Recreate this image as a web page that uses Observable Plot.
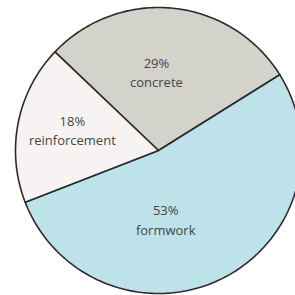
<!DOCTYPE html>
<html>
<head>
<meta charset="utf-8">
<script src="https://cdn.jsdelivr.net/npm/d3@7"></script>
<script src="https://cdn.jsdelivr.net/npm/@observablehq/plot@0.6"></script>
<style>
  html, body { margin: 0; padding: 0; background: #fff; }
  #chart svg { display: block; }
</style>
</head>
<body>
<div id="chart"></div>
<script>
// Data
const categories = ["concrete", "formwork", "reinforcement"];
const values = [29, 53, 18];
const labels = ["29%\nconcrete", "53%\nformwork", "18%\nreinforcement"];
const colors = ["#d3d2cb", "#bde2e9", "#f8f3f3"];

// Layout (pixels)
const W = 295, H = 295;
const cx = 158, cy = 150, R = 143;
const startDeg = -46.4;

// Pie angles
const pie = d3.pie().sort(null).startAngle(startDeg * Math.PI / 180)
  .endAngle(startDeg * Math.PI / 180 + 2 * Math.PI);
const arcs = pie(values);

// Build polygon outline points in unit data coords (x right, y up)
const pts = [];
arcs.forEach((a, i) => {
  const cat = categories[i];
  pts.push({cat, x: 0, y: 0});
  const n = 120;
  for (let k = 0; k <= n; k++) {
    const t = a.startAngle + (a.endAngle - a.startAngle) * k / n;
    pts.push({cat, x: Math.sin(t), y: Math.cos(t)});
  }
  pts.push({cat, x: 0, y: 0});
});

// Label anchors: centroid direction, with small pixel tweaks
const labelTweak = {
  concrete: [-10, -1],
  formwork: [-28, -2],
  reinforcement: [-9, -6]
};
const labelRows = arcs.map((a, i) => {
  const m = (a.startAngle + a.endAngle) / 2;
  return {cat: categories[i], text: labels[i], x: 0.55 * Math.sin(m), y: 0.55 * Math.cos(m)};
});

const chart = Plot.plot({
  width: W,
  height: H,
  margin: 0,
  x: {domain: [(0 - cx) / R, (W - cx) / R], axis: null},
  y: {domain: [(cy - H) / R, cy / R], axis: null},
  color: {domain: categories, range: colors},
  style: {background: "#fff"},
  marks: [
    Plot.line(pts, {x: "x", y: "y", z: "cat", fill: "cat", stroke: "#2b2b2b", strokeWidth: 1.6, strokeLinejoin: "round"}),
    ...labelRows.map(d => Plot.text([d], {
      x: "x", y: "y", text: "text",
      dx: labelTweak[d.cat][0], dy: labelTweak[d.cat][1],
      fill: "#454545", fontSize: 13, lineHeight: 1.5,
      fontFamily: "Open Sans, Lato, sans-serif"
    }))
  ]
});
document.getElementById("chart").appendChild(chart);
</script>
</body>
</html>
